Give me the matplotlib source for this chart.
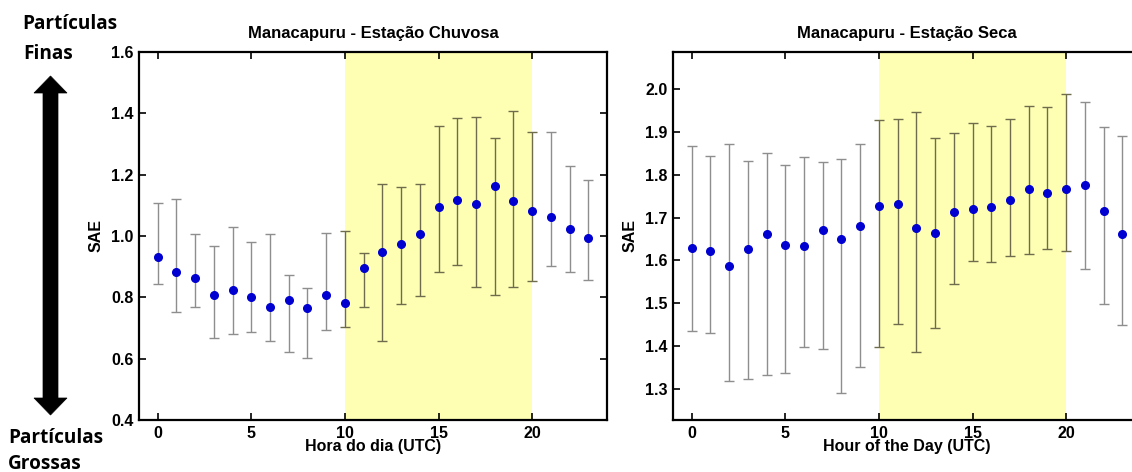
import numpy as np
import matplotlib
matplotlib.use("Agg")
import matplotlib.pyplot as plt
from matplotlib.patches import Polygon

# Hourly SAE statistics (mean with lower / upper bounds), UTC hours 0-23
hours = list(range(24))

wet_mean = [0.930, 0.881, 0.863, 0.806, 0.825, 0.800, 0.769, 0.791, 0.764, 0.807,
            0.780, 0.896, 0.948, 0.974, 1.008, 1.093, 1.116, 1.103, 1.162, 1.115,
            1.082, 1.063, 1.024, 0.993]
wet_low = [0.845, 0.752, 0.767, 0.666, 0.682, 0.688, 0.657, 0.621, 0.601, 0.695,
           0.703, 0.768, 0.659, 0.778, 0.804, 0.882, 0.904, 0.835, 0.809, 0.833,
           0.852, 0.902, 0.882, 0.858]
wet_high = [1.106, 1.120, 1.006, 0.966, 1.029, 0.982, 1.005, 0.873, 0.830, 1.010,
            1.015, 0.943, 1.171, 1.161, 1.169, 1.360, 1.384, 1.387, 1.318, 1.408,
            1.340, 1.338, 1.228, 1.184]

dry_mean = [1.629, 1.621, 1.586, 1.627, 1.661, 1.637, 1.633, 1.670, 1.649, 1.681,
            1.728, 1.731, 1.675, 1.663, 1.714, 1.720, 1.725, 1.740, 1.766, 1.758,
            1.768, 1.777, 1.716, 1.662]
dry_low = [1.435, 1.431, 1.318, 1.322, 1.331, 1.338, 1.398, 1.394, 1.290, 1.350,
           1.398, 1.451, 1.385, 1.442, 1.545, 1.599, 1.597, 1.611, 1.616, 1.627,
           1.622, 1.579, 1.497, 1.449]
dry_high = [1.868, 1.845, 1.871, 1.833, 1.852, 1.822, 1.842, 1.829, 1.836, 1.871,
            1.928, 1.931, 1.946, 1.887, 1.897, 1.921, 1.915, 1.931, 1.960, 1.959,
            1.989, 1.970, 1.911, 1.891]

daytime = (10, 20)
xticks = [0, 5, 10, 15, 20]
wet_yticks = [0.4, 0.6, 0.8, 1.0, 1.2, 1.4, 1.6]
dry_yticks = [1.3, 1.4, 1.5, 1.6, 1.7, 1.8, 1.9, 2.0]

W, H = 1132, 472
fig = plt.figure(figsize=(W / 100, H / 100), dpi=100)
fig.patch.set_facecolor("white")

tick_font = dict(family="Liberation Sans", weight="bold", size=11.5)
label_font = dict(family="Liberation Sans", weight="bold", size=11.5)


def panel(rect, mean, low, high, title, xlabel, ylim, yticks):
    ax = fig.add_axes(rect)
    ax.axvspan(*daytime, color="#ffffb4", lw=0, zorder=0)
    mean = np.asarray(mean)
    low = np.asarray(low)
    high = np.asarray(high)
    x = np.asarray(hours)
    inside = (x >= daytime[0]) & (x <= daytime[1])
    for mask, col in ((~inside, "#8e8e8e"), (inside, "#6e6c4c")):
        ax.errorbar(x[mask], mean[mask],
                    yerr=[mean[mask] - low[mask], high[mask] - mean[mask]],
                    fmt="none", ecolor=col, elinewidth=1.0, capsize=3.8,
                    capthick=1.0, zorder=2)
    ax.plot(x, mean, "o", color="#0000d0", ms=5.5, mec="#0000d0", zorder=3)
    ax.set_xlim(-1, 24)
    ax.set_ylim(*ylim)
    ax.set_xticks(xticks)
    ax.set_yticks(yticks)
    ax.set_xticklabels([str(t) for t in xticks], **tick_font)
    ax.set_yticklabels([f"{t:.1f}" for t in yticks], **tick_font)
    ax.tick_params(direction="in", length=5, width=1.2, top=True, right=True,
                   pad=4, colors="black")
    for s in ax.spines.values():
        s.set_linewidth(1.6)
    ax.set_title(title, fontdict=dict(family="Liberation Sans", weight="bold",
                                      size=12), pad=10)
    ax.set_xlabel(xlabel, labelpad=-1, **label_font)
    ax.set_ylabel("SAE", labelpad=5, **label_font)
    return ax


def fig_rect(x0, y0, x1, y1):
    return [x0 / W, 1 - y1 / H, (x1 - x0) / W, (y1 - y0) / H]


panel(fig_rect(139, 52, 607, 420), wet_mean, wet_low, wet_high,
      "Manacapuru - Estação Chuvosa", "Hora do dia (UTC)", (0.4, 1.6), wet_yticks)
panel(fig_rect(673, 52, 1141, 420), dry_mean, dry_low, dry_high,
      "Manacapuru - Estação Seca", "Hour of the Day (UTC)", (1.227, 2.087), dry_yticks)

# Side annotation: fine vs coarse particles with a double-headed arrow
side_font = dict(family="Open Sans", weight="bold", size=13.7, color="black")
fig.text(22 / W, 1 - 24 / H, "Partículas", va="center", ha="left", **side_font)
fig.text(23 / W, 1 - 54 / H, "Finas", va="center", ha="left", **side_font)
fig.text(8 / W, 1 - 438 / H, "Partículas", va="center", ha="left", **side_font)
fig.text(8 / W, 1 - 464 / H, "Grossas", va="center", ha="left", **side_font)

cx, hw, sw = 50.5, 16.5, 7.5
top, bot, head = 76, 415, 17
pts = [(cx, top), (cx + hw, top + head), (cx + sw, top + head),
       (cx + sw, bot - head), (cx + hw, bot - head), (cx, bot),
       (cx - hw, bot - head), (cx - sw, bot - head), (cx - sw, top + head),
       (cx - hw, top + head)]
pts = [(px / W, 1 - py / H) for px, py in pts]
fig.add_artist(Polygon(pts, closed=True, facecolor="black", edgecolor="black",
                       lw=0.5, transform=fig.transFigure))

fig.savefig("out.png", dpi=100)
